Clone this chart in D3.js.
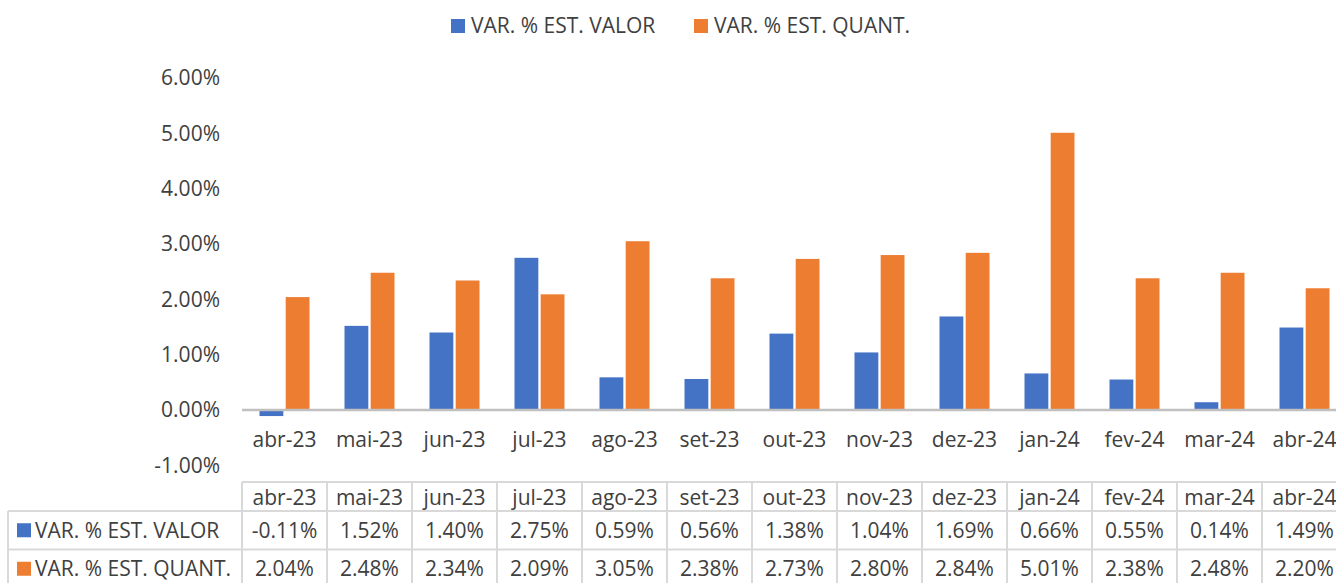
<!DOCTYPE html>
<html><head><meta charset="utf-8">
<script src="https://cdn.jsdelivr.net/npm/d3@7"></script>
<style>body{margin:0;background:#fff;overflow:hidden}text{font-family:"Open Sans",sans-serif;fill:#404040}</style>
</head><body><svg id="c" width="1336" height="583"></svg>
<script>
const categories=["abr-23","mai-23","jun-23","jul-23","ago-23","set-23","out-23","nov-23","dez-23","jan-24","fev-24","mar-24","abr-24"];
const seriesNames=["VAR. % EST. VALOR","VAR. % EST. QUANT."];
const valor=[-0.11,1.52,1.40,2.75,0.59,0.56,1.38,1.04,1.69,0.66,0.55,0.14,1.49];
const quant=[2.04,2.48,2.34,2.09,3.05,2.38,2.73,2.80,2.84,5.01,2.38,2.48,2.20];
const yTicks=[-1,0,1,2,3,4,5,6];
const colors=["#4472C4","#ED7D31"];
const series=[valor,quant];

const svg=d3.select("#c");
const fs=21;
const pct=d=>d3.format(".2f")(d).replace("\u2212","-")+"%";
const x=d3.scaleBand().domain(categories).range([242,1347]).paddingInner(0).paddingOuter(0);
const y=d3.scaleLinear().domain([-1,6]).range([465.3,78]);
const xs=d3.scaleBand().domain([0,1]).range([0,50]).paddingInner(0.09);

svg.append("g").selectAll("text").data(yTicks).join("text")
 .attr("x",220).attr("y",d=>y(d)).attr("dy","0.35em").attr("text-anchor","end")
 .attr("font-size",fs).text(pct);

series.forEach((s,i)=>{
 svg.append("g").selectAll("rect").data(s).join("rect")
  .attr("x",(d,j)=>x(categories[j])+x.bandwidth()/2-25+xs(i))
  .attr("width",xs.bandwidth())
  .attr("y",d=>Math.min(y(d),y(0)))
  .attr("height",d=>Math.abs(y(d)-y(0)))
  .attr("fill",colors[i]);
});
svg.append("line").attr("x1",242).attr("x2",1347).attr("y1",y(0)).attr("y2",y(0))
 .attr("stroke","#c0c0c0").attr("stroke-width",2.5);

svg.append("g").selectAll("text").data(categories).join("text")
 .attr("x",d=>x(d)+x.bandwidth()/2).attr("y",440).attr("dy","0.35em")
 .attr("text-anchor","middle").attr("font-size",fs).text(d=>d);

const leg=[{x:451,tx:471},{x:694,tx:714}];
leg.forEach((l,i)=>{
 svg.append("rect").attr("x",l.x).attr("y",19).attr("width",14).attr("height",14).attr("fill",colors[i]);
 svg.append("text").attr("x",l.tx).attr("y",26).attr("dy","0.35em").attr("font-size",fs).text(seriesNames[i]);
});

const rowTop=[482,511,549.5,588];
const tg=svg.append("g");
const lc="#d9d9d9";
tg.append("line").attr("x1",242).attr("x2",1347).attr("y1",rowTop[0]).attr("y2",rowTop[0]).attr("stroke",lc).attr("stroke-width",2);
[1,2,3].forEach(r=>tg.append("line").attr("x1",8).attr("x2",1347).attr("y1",rowTop[r]).attr("y2",rowTop[r]).attr("stroke",lc).attr("stroke-width",2));
categories.forEach(c=>tg.append("line").attr("x1",x(c)).attr("x2",x(c)).attr("y1",rowTop[0]).attr("y2",rowTop[3]).attr("stroke",lc).attr("stroke-width",2));
tg.append("line").attr("x1",8).attr("x2",8).attr("y1",rowTop[1]).attr("y2",rowTop[3]).attr("stroke",lc).attr("stroke-width",2);
tg.selectAll("text.h").data(categories).join("text").attr("class","h")
 .attr("x",d=>x(d)+x.bandwidth()/2).attr("y",(rowTop[0]+rowTop[1])/2+1).attr("dy","0.35em")
 .attr("text-anchor","middle").attr("font-size",fs).text(d=>d);
series.forEach((s,i)=>{
 const cy=(rowTop[i+1]+rowTop[i+2])/2;
 tg.append("rect").attr("x",17).attr("y",cy-7).attr("width",14).attr("height",14).attr("fill",colors[i]);
 tg.append("text").attr("x",35).attr("y",cy).attr("dy","0.35em").attr("font-size",fs).text(seriesNames[i]);
 tg.selectAll("text.v"+i).data(s).join("text").attr("class","v"+i)
  .attr("x",(d,j)=>x(categories[j])+x.bandwidth()/2).attr("y",cy).attr("dy","0.35em")
  .attr("text-anchor","middle").attr("font-size",fs).text(pct);
});
</script></body></html>
